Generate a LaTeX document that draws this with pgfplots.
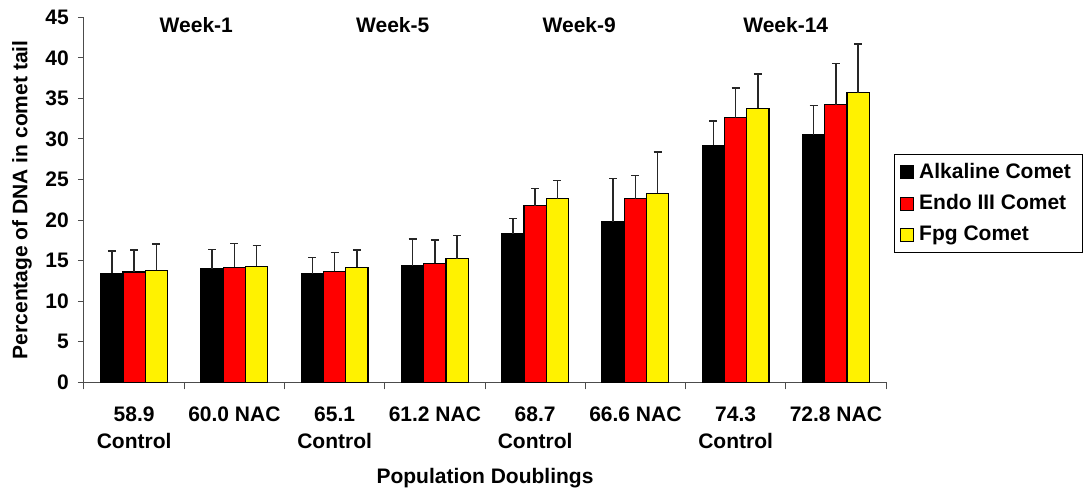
\documentclass[border=0pt]{standalone}
\usepackage{fontspec}
\setmainfont{Liberation Sans}
\usepackage{pgfplots}
\usepackage{pgfplotstable}
\pgfplotsset{compat=1.18}

\pgfplotstableread{
x y e
0 13.45 2.75
1 14.0 2.4
2 13.35 2.05
3 14.38 3.3
4 18.3 1.9
5 19.8 5.3
6 29.2 3.0
7 30.5 3.6
}\alk
\pgfplotstableread{
x y e
0 13.6 2.7
1 14.2 2.9
2 13.7 2.3
3 14.7 2.85
4 21.75 2.15
5 22.66 2.85
6 32.6 3.7
7 34.2 5.1
}\endo
\pgfplotstableread{
x y e
0 13.8 3.25
1 14.3 2.6
2 14.2 2.1
3 15.24 2.85
4 22.66 2.25
5 23.3 5.1
6 33.8 4.2
7 35.7 6.0
}\fpg

\newcommand{\ff}{\fontsize{21}{27}\selectfont\bfseries}

\begin{document}
\ff
\begin{tikzpicture}
\begin{axis}[
  name=ax,
  scale only axis,
  width=802pt, height=365pt,
  xmin=-0.5, xmax=7.5,
  ymin=0, ymax=45,
  axis lines*=left,
  axis line style={black!70, line width=1pt},
  ytick={0,5,...,45},
  xtick={0,...,7},
  xticklabels={{58.9\\Control},{60.0 NAC},{65.1\\Control},{61.2 NAC},{68.7\\Control},{66.6 NAC},{74.3\\Control},{72.8 NAC}},
  minor xtick={-0.5,0.5,...,7.5},
  tick align=outside,
  major x tick style={draw=none},
  minor tick length=7pt,
  major tick length=6pt,
  tick style={black!70, line width=1pt},
  /pgf/number format/assume math mode=true,
  ticklabel style={font=\ff},
  xticklabel style={align=center, anchor=north, yshift=-11pt},
  yticklabel style={xshift=-2pt},
  xlabel={Population Doublings},
  ylabel={Percentage of DNA in comet tail},
  label style={font=\ff},
  xlabel style={at={(axis description cs:0.5,0)}, anchor=base, yshift=-101pt},
  ylabel style={at={(axis description cs:0,0.5)}, anchor=south, xshift=0pt, yshift=45pt},
  ybar, bar width=0.222,
  legend style={at={(axis description cs:1.0100,0.49)}, anchor=west, draw=black, line width=0.8pt,
    font=\ff, row sep=9pt, inner xsep=6pt, inner ysep=7pt, cells={anchor=west},
    nodes={inner xsep=5pt}},
  legend image code/.code={\draw[#1,draw=black,line width=0.8pt] (0pt,-6.5pt) rectangle (13pt,6.5pt);},
  error bars/y dir=plus,
  error bars/y explicit,
  error bars/error bar style={line width=1.4pt, black!85},
  error bars/error mark options={rotate=90, mark size=4pt, line width=1.4pt, black!85},
]
\addplot[fill=black, draw=black, line width=1.1pt, bar shift=-0.222] table[x=x, y=y, y error=e]{\alk};
\addplot[fill=red, draw=black, line width=1.1pt, bar shift=0] table[x=x, y=y, y error=e]{\endo};
\addplot[fill=yellow, draw=black, line width=1.1pt, bar shift=0.222] table[x=x, y=y, y error=e]{\fpg};
\legend{Alkaline Comet, Endo III Comet, Fpg Comet}
\node[font=\ff] at (axis cs:0.62,44.1) {Week-1};
\node[font=\ff] at (axis cs:2.58,44.1) {Week-5};
\node[font=\ff] at (axis cs:4.44,44.1) {Week-9};
\node[font=\ff] at (axis cs:6.5,44.1) {Week-14};
\end{axis}
\pgfresetboundingbox
\useasboundingbox (ax.south west) ++(-84pt,-106.7pt) rectangle ++(1086pt,489pt);
\end{tikzpicture}
\end{document}
